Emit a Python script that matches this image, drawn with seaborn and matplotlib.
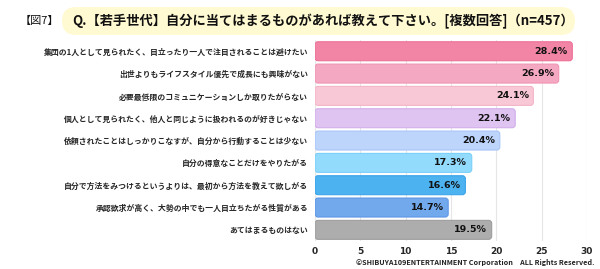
import matplotlib
matplotlib.use("Agg")
import matplotlib.pyplot as plt
import seaborn as sns
import pandas as pd
from matplotlib.patches import FancyBboxPatch

categories = [
    "集団の1人として見られたく、目立ったり一人で注目されることは避けたい",
    "出世よりもライフスタイル優先で成長にも興味がない",
    "必要最低限のコミュニケーションしか取りたがらない",
    "個人として見られたく、他人と同じように扱われるのが好きじゃない",
    "依頼されたことはしっかりこなすが、自分から行動することは少ない",
    "自分の得意なことだけをやりたがる",
    "自分で方法をみつけるというよりは、最初から方法を教えて欲しがる",
    "承認欲求が高く、大勢の中でも一人目立ちたがる性質がある",
    "あてはまるものはない",
]
values = [28.4, 26.9, 24.1, 22.1, 20.4, 17.3, 16.6, 14.7, 19.5]
colors = ["#F285A6", "#F5A8C2", "#F9C8D6", "#DFC3F1", "#BDD4FB",
          "#93DBFD", "#4DB2F0", "#72A8EC", "#ADADAD"]
edges = ["#EE6F97", "#F095B3", "#F4B4C7", "#D2ADEB", "#A9C6F8",
         "#7ACFFA", "#3AA5EA", "#5E97E6", "#9E9E9E"]
xticks = [0, 5, 10, 15, 20, 25, 30]
title = "Q.【若手世代】自分に当てはまるものがあれば教えて下さい。[複数回答]（n=457）"
fig_label = "【図7】"
copyright_text = "©SHIBUYA109ENTERTAINMENT Corporation　ALL Rights Reserved."

sns.set_theme(style="white")
plt.rcParams['font.family'] = ['Noto Sans CJK JP', 'DejaVu Sans']

df = pd.DataFrame({"cat": categories, "val": values})

fig = plt.figure(figsize=(6, 2.69), dpi=100)
ax = fig.add_axes([0.525, 0.104, 0.453, 0.747])

sns.barplot(data=df, x="val", y="cat", hue="cat", palette=colors,
            legend=False, ax=ax, width=0.85, saturation=1, zorder=3)

ax.set_xlim(0, 30)
ax.set_ylim(len(categories) - 0.5, -0.5)
ax.set_xticks(xticks)
ax.set_xticklabels([str(t) for t in xticks], fontsize=6.5, fontweight='bold',
                   family=['DejaVu Sans'])
ax.set_xlabel("")
ax.set_ylabel("")
ax.tick_params(axis='both', length=0, pad=5)
ax.tick_params(axis='x', pad=4)
for lab in ax.get_yticklabels():
    lab.set_fontsize(5.65)
    lab.set_fontweight('bold')
for s in ax.spines.values():
    s.set_visible(False)
ax.grid(axis='x', color='#E6E6E6', linewidth=0.8, zorder=0)
ax.grid(axis='y', visible=False)

# rounded bars
fig.canvas.draw()
px_per_x = ax.transData.transform((1, 0))[0] - ax.transData.transform((0, 0))[0]
px_per_y = abs(ax.transData.transform((0, 1))[1] - ax.transData.transform((0, 0))[1])
r_px = 3.0
aspect = px_per_x / px_per_y
patches = list(ax.patches)
for i, p in enumerate(patches):
    x0, y0, w, h = p.get_x(), p.get_y(), p.get_width(), p.get_height()
    p.remove()
    fb = FancyBboxPatch((x0, y0), w, h,
                        boxstyle=f"round,pad=0,rounding_size={r_px / px_per_x}",
                        mutation_aspect=aspect,
                        facecolor=colors[i], edgecolor=edges[i], linewidth=0.8,
                        zorder=3)
    ax.add_patch(fb)
    ax.text(x0 + w - 4.5 / px_per_x, y0 + h / 2, f"{values[i]}%",
            ha='right', va='center', fontsize=6.8, fontweight='bold',
            color='#111111', family=['DejaVu Sans'], zorder=4)

# title pill
pill = FancyBboxPatch((62, 269 - 35), 513, 28,
                      boxstyle="round,pad=0,rounding_size=14",
                      transform=None, facecolor="#FFFAD2", edgecolor="none")
fig.add_artist(pill)
fig.text(72 / 600, 1 - 21 / 269, title, ha='left', va='center',
         fontsize=9.5, fontweight='bold', color='#111111')
fig.text(20 / 600, 1 - 21 / 269, fig_label, ha='left', va='center',
         fontsize=8, color='#111111')
fig.text(595 / 600, 1 - 263 / 269, copyright_text, ha='right', va='center',
         fontsize=5.2, fontweight='bold', color='#222222')

fig.savefig("out.png", dpi=100)
